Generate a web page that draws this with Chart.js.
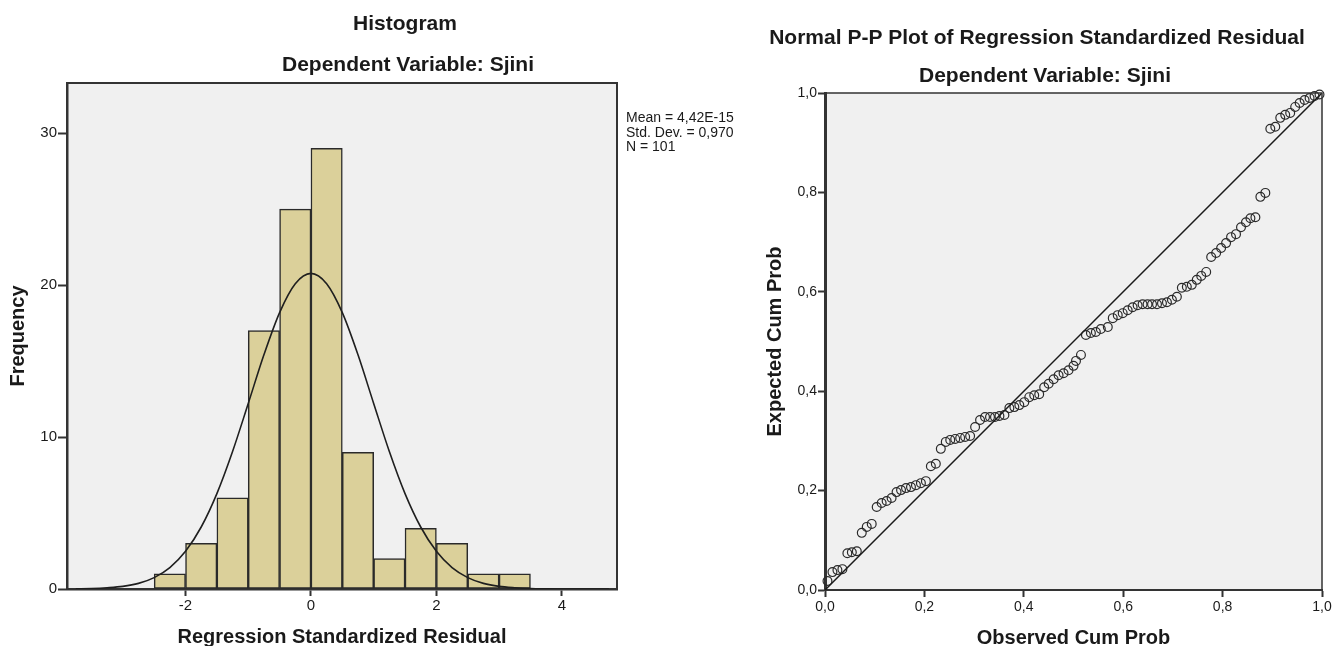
<!DOCTYPE html>
<html>
<head>
<meta charset="utf-8">
<title>Histogram / Normal P-P Plot</title>
<script src="https://cdn.jsdelivr.net/npm/chart.js@4.4.1/dist/chart.umd.min.js"></script>
<style>
    html, body { margin: 0; padding: 0; background: #fff; }
    #wrap { position: relative; width: 1338px; height: 646px; overflow: hidden; }
    canvas { position: absolute; top: 0; }
    #histChart { left: 0; }
    #ppChart { left: 740px; }
</style>
</head>
<body>
<div id="wrap">
    <canvas id="histChart" width="760" height="646"></canvas>
    <canvas id="ppChart" width="598" height="646"></canvas>
</div>
<script>
// بيانات المدرج التكراري
const histBinCenters = [-2.25, -1.75, -1.25, -0.75, -0.25, 0.25, 0.75, 1.25, 1.75, 2.25, 2.75, 3.25];
const histCounts = [1, 3, 6, 17, 25, 29, 9, 2, 4, 3, 1, 1];

// المنحنى الطبيعي كما يظهر في الصورة
const curveX = [-3.75, -3.5, -3.25, -3, -2.75, -2.5, -2.25, -2, -1.75, -1.5, -1.25, -1, -0.75, -0.5, -0.25, 0,
    0.25, 0.5, 0.75, 1, 1.25, 1.5, 1.75, 2, 2.25, 2.5, 2.75, 3, 3.25, 3.5, 3.75, 4, 4.25, 4.5, 4.75];
const curveY = [0.01, 0.03, 0.08, 0.17, 0.37, 0.75, 1.41, 2.48, 4.08, 6.28, 9.05, 12.21, 15.41, 18.19, 20.09, 20.77,
    20.09, 18.19, 15.41, 12.21, 9.05, 6.28, 4.08, 2.48, 1.41, 0.75, 0.37, 0.17, 0.08, 0.03, 0.01, 0, 0, 0, 0];

const histXTicks = [-2, 0, 2, 4];
const histYTicks = [0, 10, 20, 30];
const histStats = ['Mean = 4,42E-15', 'Std. Dev. = 0,970', 'N = 101'];

// بيانات مخطط P-P
const ppObserved = [0.005, 0.015, 0.025, 0.035, 0.045, 0.054, 0.064, 0.074, 0.084, 0.094,
    0.104, 0.114, 0.124, 0.134, 0.144, 0.153, 0.163, 0.173, 0.183, 0.193,
    0.203, 0.213, 0.223, 0.233, 0.243, 0.252, 0.262, 0.272, 0.282, 0.292,
    0.302, 0.312, 0.322, 0.332, 0.342, 0.351, 0.361, 0.371, 0.381, 0.391,
    0.401, 0.411, 0.421, 0.431, 0.441, 0.450, 0.460, 0.470, 0.480, 0.490,
    0.500, 0.505, 0.515, 0.525, 0.535, 0.545, 0.555, 0.569, 0.579, 0.589,
    0.599, 0.609, 0.619, 0.629, 0.639, 0.649, 0.658, 0.668, 0.678, 0.688,
    0.698, 0.708, 0.718, 0.728, 0.738, 0.748, 0.757, 0.767, 0.777, 0.787,
    0.797, 0.807, 0.817, 0.827, 0.837, 0.847, 0.856, 0.866, 0.876, 0.886,
    0.896, 0.906, 0.916, 0.926, 0.936, 0.946, 0.955, 0.965, 0.975, 0.985, 0.995];
const ppExpected = [0.018, 0.036, 0.040, 0.042, 0.074, 0.076, 0.078, 0.115, 0.127, 0.133,
    0.167, 0.175, 0.179, 0.185, 0.197, 0.201, 0.205, 0.207, 0.211, 0.215,
    0.219, 0.249, 0.254, 0.284, 0.298, 0.302, 0.304, 0.306, 0.308, 0.310,
    0.328, 0.342, 0.348, 0.348, 0.348, 0.350, 0.352, 0.366, 0.368, 0.372,
    0.378, 0.388, 0.392, 0.394, 0.408, 0.415, 0.424, 0.432, 0.436, 0.442,
    0.451, 0.461, 0.473, 0.513, 0.517, 0.519, 0.525, 0.529, 0.547, 0.553,
    0.557, 0.563, 0.569, 0.573, 0.575, 0.575, 0.575, 0.575, 0.577, 0.579,
    0.584, 0.590, 0.608, 0.610, 0.614, 0.624, 0.632, 0.640, 0.670, 0.678,
    0.688, 0.698, 0.710, 0.716, 0.730, 0.740, 0.748, 0.750, 0.791, 0.799,
    0.928, 0.932, 0.950, 0.956, 0.960, 0.972, 0.980, 0.986, 0.990, 0.994, 0.997];
const ppDiagonal = [0, 1];
const ppTicks = [0, 0.2, 0.4, 0.6, 0.8, 1];
const ppTickLabels = ['0,0', '0,2', '0,4', '0,6', '0,8', '1,0'];

const FONT = "'Liberation Sans', Arial, sans-serif";
const INK = '#1a1a1a';

// خلفية وإطار منطقة الرسم
const plotFrame = {
    id: 'plotFrame',
    beforeDraw(chart, args, opts) {
        const { ctx, chartArea: a } = chart;
        ctx.save();
        ctx.fillStyle = opts.fill;
        ctx.fillRect(a.left, a.top, a.right - a.left, a.bottom - a.top);
        ctx.restore();
    },
    afterDraw(chart, args, opts) {
        const { ctx, chartArea: a } = chart;
        ctx.save();
        ctx.strokeStyle = opts.stroke;
        ctx.lineWidth = opts.width;
        ctx.beginPath();
        ctx.moveTo(a.left, a.top);
        ctx.lineTo(a.right, a.top);
        ctx.lineTo(a.right, a.bottom);
        ctx.stroke();
        ctx.restore();
    }
};

// نصوص العناوين والإحصاءات
const fixedText = {
    id: 'fixedText',
    afterDraw(chart, args, opts) {
        const ctx = chart.ctx;
        ctx.save();
        ctx.fillStyle = INK;
        ctx.textBaseline = 'middle';
        opts.items.forEach(function(t) {
            ctx.font = t.font;
            ctx.textAlign = t.align || 'center';
            ctx.fillText(t.text, t.x, t.y);
        });
        ctx.restore();
    }
};

document.addEventListener('DOMContentLoaded', function() {
    const histCtx = document.getElementById('histChart');
    const histChart = new Chart(histCtx, {
        type: 'bar',
        data: {
            datasets: [{
                type: 'line',
                data: curveX.map((x, i) => ({ x: x, y: curveY[i] })),
                borderColor: '#1f1f1f',
                borderWidth: 1.6,
                pointRadius: 0,
                cubicInterpolationMode: 'monotone',
                fill: false,
                order: 0
            }, {
                type: 'bar',
                data: histBinCenters.map((x, i) => ({ x: x, y: histCounts[i] })),
                backgroundColor: '#DBD09A',
                borderColor: '#2a2a2a',
                borderWidth: 1.5,
                borderSkipped: false,
                barPercentage: 1,
                categoryPercentage: 1,
                order: 1
            }]
        },
        options: {
            responsive: false,
            animation: false,
            events: [],
            layout: { padding: { top: 83, right: 143, bottom: 0, left: 0 } },
            plugins: {
                legend: { display: false },
                tooltip: { enabled: false },
                plotFrame: { fill: '#F0F0F0', stroke: '#333', width: 2 },
                fixedText: {
                    items: [
                        { text: 'Histogram', x: 405, y: 24, font: 'bold 21px ' + FONT },
                        { text: 'Dependent Variable: Sjini', x: 408, y: 65, font: 'bold 21px ' + FONT },
                        { text: histStats[0], x: 626, y: 118, font: '14px ' + FONT, align: 'left' },
                        { text: histStats[1], x: 626, y: 133, font: '14px ' + FONT, align: 'left' },
                        { text: histStats[2], x: 626, y: 147, font: '14px ' + FONT, align: 'left' }
                    ]
                }
            },
            scales: {
                x: {
                    type: 'linear',
                    min: -3.89,
                    max: 4.88,
                    offset: false,
                    afterBuildTicks: function(axis) {
                        axis.ticks = histXTicks.map(v => ({ value: v }));
                    },
                    afterFit: function(axis) { axis.height = 57; },
                    grid: { offset: false, drawOnChartArea: false, tickLength: 7, tickColor: '#333', tickWidth: 2 },
                    border: { display: true, color: '#333', width: 2.5 },
                    ticks: { color: INK, padding: 1, font: { family: FONT, size: 15 } },
                    title: {
                        display: true,
                        text: 'Regression Standardized Residual',
                        color: INK,
                        padding: 0,
                        font: { family: FONT, size: 20, weight: 'bold', lineHeight: 0.9 }
                    }
                },
                y: {
                    min: 0,
                    max: 33.3,
                    afterBuildTicks: function(axis) {
                        axis.ticks = histYTicks.map(v => ({ value: v }));
                    },
                    afterFit: function(axis) { axis.width = 67; },
                    grid: { drawOnChartArea: false, tickLength: 9, tickColor: '#333', tickWidth: 2 },
                    border: { display: true, color: '#333', width: 2.5 },
                    ticks: { color: INK, padding: 1, font: { family: FONT, size: 15 } },
                    title: {
                        display: true,
                        text: 'Frequency',
                        color: INK,
                        padding: { top: 8 },
                        font: { family: FONT, size: 20, weight: 'bold', lineHeight: 1 }
                    }
                }
            }
        },
        plugins: [plotFrame, fixedText]
    });

    const ppCtx = document.getElementById('ppChart');
    const ppChart = new Chart(ppCtx, {
        type: 'scatter',
        data: {
            datasets: [{
                data: ppObserved.map((x, i) => ({ x: x, y: ppExpected[i] })),
                pointStyle: 'circle',
                pointRadius: 4.4,
                pointBorderWidth: 1.2,
                pointBorderColor: '#2a2a2a',
                pointBackgroundColor: 'rgba(0,0,0,0)',
                clip: false,
                order: 1
            }, {
                data: ppDiagonal.map(v => ({ x: v, y: v })),
                showLine: true,
                borderColor: '#1a1a1a',
                borderWidth: 1.5,
                pointRadius: 0,
                order: 0
            }]
        },
        options: {
            responsive: false,
            animation: false,
            events: [],
            layout: { padding: { top: 93, right: 16, bottom: 0, left: 0 } },
            plugins: {
                legend: { display: false },
                tooltip: { enabled: false },
                plotFrame: { fill: '#F0F0F0', stroke: '#333', width: 1.5 },
                fixedText: {
                    items: [
                        { text: 'Normal P-P Plot of Regression Standardized Residual', x: 297, y: 38, font: 'bold 21px ' + FONT },
                        { text: 'Dependent Variable: Sjini', x: 305, y: 76, font: 'bold 21px ' + FONT }
                    ]
                }
            },
            scales: {
                x: {
                    type: 'linear',
                    min: 0,
                    max: 1,
                    afterBuildTicks: function(axis) {
                        axis.ticks = ppTicks.map(v => ({ value: v }));
                    },
                    afterFit: function(axis) { axis.height = 56; },
                    grid: { drawOnChartArea: false, tickLength: 7, tickColor: '#333', tickWidth: 2 },
                    border: { display: true, color: '#333', width: 2 },
                    ticks: {
                        color: INK, padding: 2, font: { family: FONT, size: 14 },
                        callback: function(value) { return ppTickLabels[ppTicks.indexOf(value)]; }
                    },
                    title: {
                        display: true,
                        text: 'Observed Cum Prob',
                        color: INK,
                        padding: 0,
                        font: { family: FONT, size: 20, weight: 'bold', lineHeight: 0.8 }
                    }
                },
                y: {
                    min: 0,
                    max: 1,
                    afterBuildTicks: function(axis) {
                        axis.ticks = ppTicks.map(v => ({ value: v }));
                    },
                    afterFit: function(axis) { axis.width = 85; },
                    grid: { drawOnChartArea: false, tickLength: 7, tickColor: '#333', tickWidth: 2 },
                    border: { display: true, color: '#333', width: 3 },
                    ticks: {
                        color: INK, padding: 1, font: { family: FONT, size: 14 },
                        callback: function(value) { return ppTickLabels[ppTicks.indexOf(value)]; }
                    },
                    title: {
                        display: true,
                        text: 'Expected Cum Prob',
                        color: INK,
                        padding: { top: 25 },
                        font: { family: FONT, size: 20, weight: 'bold', lineHeight: 1 }
                    }
                }
            }
        },
        plugins: [plotFrame, fixedText]
    });
});
</script>
</body>
</html>
